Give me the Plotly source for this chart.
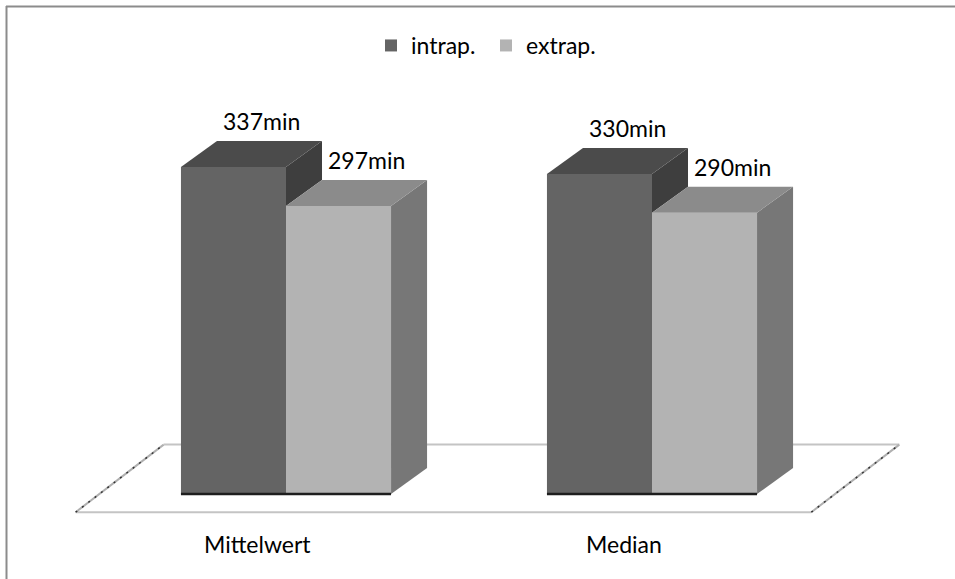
import plotly.graph_objects as go

# ---- data ----
categories = ["Mittelwert", "Median"]
series_names = ["intrap.", "extrap."]
intrap_values = [337, 330]
extrap_values = [297, 290]
value_labels_intrap = ["337min", "330min"]
value_labels_extrap = ["297min", "290min"]

# ---- styling ----
FONT = "Lato"
FRONT = ["#646464", "#b3b3b3"]
TOP = ["#4b4b4b", "#8b8b8b"]
SIDE = ["#3e3e3e", "#777777"]
BAR_W = 0.287          # bar width in category units
DDX, DDY = 0.0984, 26.8  # oblique depth vector (x in category units, y in value units)
FLOOR_X = (-0.51, 1.5)
FLOOR_D = (-0.7, 1.9)
FLOOR_DX = 0.0925

series = [intrap_values, extrap_values]
labels = [value_labels_intrap, value_labels_extrap]
xs = list(range(len(categories)))

fig = go.Figure()

# front faces as bars
for s, (name, vals) in enumerate(zip(series_names, series)):
    fig.add_trace(go.Bar(
        x=xs, y=vals, name=name,
        offset=-BAR_W + s * BAR_W, width=BAR_W,
        marker=dict(color=FRONT[s], line=dict(width=0)),
        hoverinfo="skip",
    ))

# top and side faces
for c in xs:
    for s in range(len(series)):
        v = series[s][c]
        x0 = c - BAR_W + s * BAR_W
        x1 = x0 + BAR_W
        # side face: only the part above the neighbouring bar's top face is visible
        if s + 1 < len(series) and series[s + 1][c] < v:
            low = series[s + 1][c]
        else:
            low = 0
        fig.add_trace(go.Scatter(
            x=[x1, x1, x1 + DDX, x1 + DDX, x1],
            y=[low, v, v + DDY, low + DDY, low],
            fill="toself", fillcolor=SIDE[s], mode="lines",
            line=dict(width=0, color=SIDE[s]), showlegend=False, hoverinfo="skip",
        ))
        fig.add_trace(go.Scatter(
            x=[x0, x1, x1 + DDX, x0 + DDX, x0],
            y=[v, v, v + DDY, v + DDY, v],
            fill="toself", fillcolor=TOP[s], mode="lines",
            line=dict(width=0, color=TOP[s]), showlegend=False, hoverinfo="skip",
        ))
        fig.add_annotation(
            x=(x0 + x1) / 2 + 0.78 * DDX, y=v + DDY, text=labels[s][c],
            showarrow=False, yanchor="bottom", yshift=4,
            font=dict(family=FONT, size=23, color="#000000"),
        )
    # dark edge along the bottom of the front faces
    fig.add_trace(go.Scatter(
        x=[c - BAR_W, c + BAR_W * (len(series) - 1)], y=[0, 0], mode="lines",
        line=dict(color="#1e1e1e", width=2.5), showlegend=False, hoverinfo="skip",
    ))
    fig.add_annotation(
        x=c - 0.78 * DDX, y=-52, text=categories[c], showarrow=False,
        font=dict(family=FONT, size=23, color="#000000"),
    )

# floor parallelogram (behind the bars)
fy0, fy1 = FLOOR_D[0] * DDY, FLOOR_D[1] * DDY
fl = [FLOOR_X[0] + FLOOR_D[0] * FLOOR_DX, FLOOR_X[0] + FLOOR_D[1] * FLOOR_DX]
fr = [FLOOR_X[1] + FLOOR_D[0] * FLOOR_DX, FLOOR_X[1] + FLOOR_D[1] * FLOOR_DX]
floor_gray = "#c4c4c4"
for (xa, ya, xb, yb) in [(fl[0], fy0, fr[0], fy0), (fl[1], fy1, fr[1], fy1)]:
    fig.add_shape(type="line", xref="x", yref="y", x0=xa, y0=ya, x1=xb, y1=yb,
                  line=dict(color=floor_gray, width=2), layer="below")
for (xa, ya, xb, yb) in [(fl[0], fy0, fl[1], fy1), (fr[0], fy0, fr[1], fy1)]:
    fig.add_shape(type="line", xref="x", yref="y", x0=xa, y0=ya, x1=xb, y1=yb,
                  line=dict(color="#b0b0b0", width=2), layer="below")
    fig.add_shape(type="line", xref="x", yref="y", x0=xa, y0=ya, x1=xb, y1=yb,
                  line=dict(color="#333333", width=1.5, dash="2px,6px"), layer="below")

# chart border (top and left edges)
fig.add_shape(type="line", xref="paper", yref="paper", x0=6 / 955, x1=1, y0=1 - 6.5 / 579, y1=1 - 6.5 / 579,
              line=dict(color="#8c8c8c", width=2))
fig.add_shape(type="line", xref="paper", yref="paper", x0=6.5 / 955, x1=6.5 / 955, y0=0, y1=1 - 6 / 579,
              line=dict(color="#8c8c8c", width=2))

W, H = 955, 579
fig.update_layout(
    width=W, height=H,
    margin=dict(l=0, r=0, t=0, b=0),
    paper_bgcolor="white", plot_bgcolor="white",
    barmode="overlay",
    xaxis=dict(range=[-286 / 366, (W - 286) / 366], visible=False, fixedrange=True),
    yaxis=dict(range=[(494 - H) / 0.97, 494 / 0.97], visible=False, fixedrange=True),
    legend=dict(
        orientation="h", x=371 / W, y=1 - 24 / H, xanchor="left", yanchor="top",
        font=dict(family=FONT, size=23, color="#000000"),
        entrywidth=70, entrywidthmode="pixels", itemwidth=30,
        bgcolor="rgba(0,0,0,0)", traceorder="normal",
    ),
    showlegend=True,
)

fig.write_html("out.html")
